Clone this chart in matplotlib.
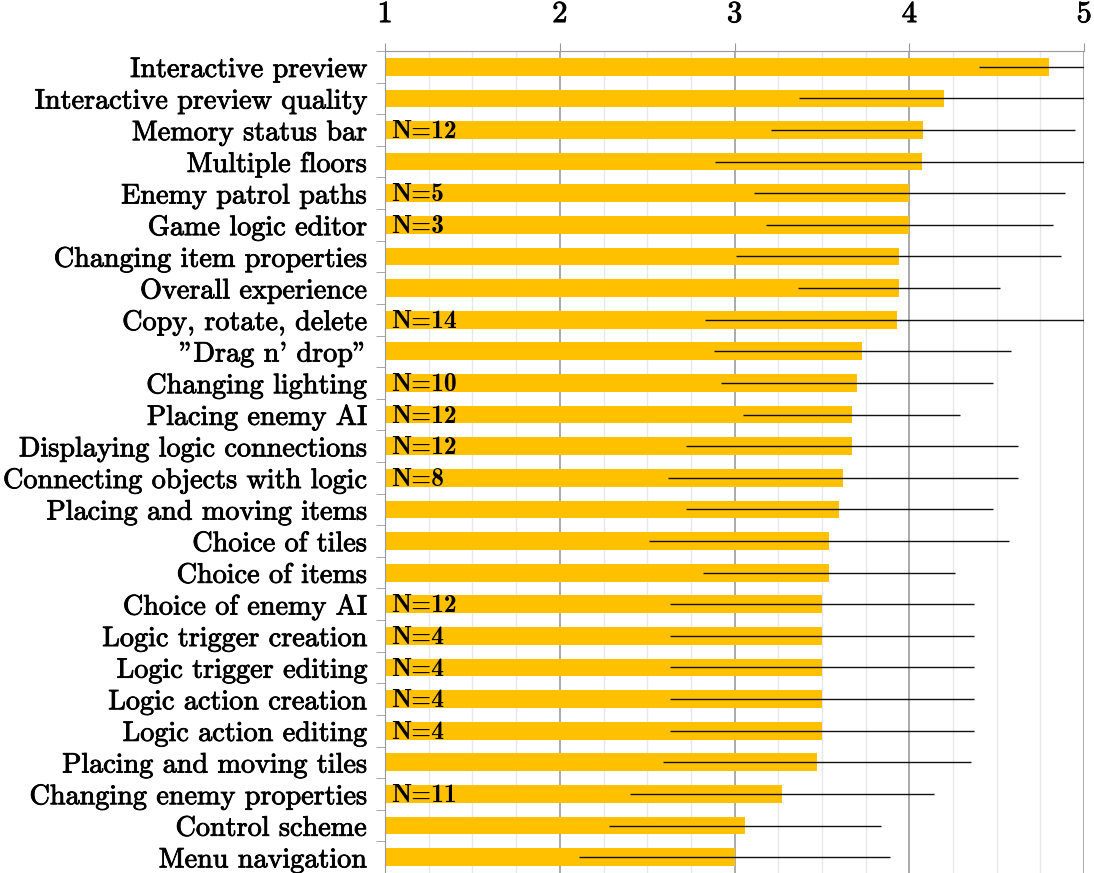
import matplotlib
matplotlib.use("Agg")
import matplotlib.pyplot as plt
import matplotlib.patheffects as pe
import numpy as np

# feature ratings (mean on 1-5 scale) with spread, top to bottom
features = [
    "Interactive preview",
    "Interactive preview quality",
    "Memory status bar",
    "Multiple floors",
    "Enemy patrol paths",
    "Game logic editor",
    "Changing item properties",
    "Overall experience",
    "Copy, rotate, delete",
    "\"Drag n' drop\"",
    "Changing lighting",
    "Placing enemy AI",
    "Displaying logic connections",
    "Connecting objects with logic",
    "Placing and moving items",
    "Choice of tiles",
    "Choice of items",
    "Choice of enemy AI",
    "Logic trigger creation",
    "Logic trigger editing",
    "Logic action creation",
    "Logic action editing",
    "Placing and moving tiles",
    "Changing enemy properties",
    "Control scheme",
    "Menu navigation",
]
means = [4.80, 4.20, 4.08, 4.07, 4.00, 4.00, 3.94, 3.94, 3.93, 3.73,
         3.70, 3.67, 3.67, 3.62, 3.60, 3.54, 3.54, 3.50, 3.50, 3.50,
         3.50, 3.50, 3.47, 3.27, 3.06, 3.00]
spread = [0.40, 0.83, 0.87, 1.18, 0.89, 0.82, 0.93, 0.58, 1.10, 0.85,
          0.78, 0.62, 0.95, 1.00, 0.88, 1.03, 0.72, 0.87, 0.87, 0.87,
          0.87, 0.87, 0.88, 0.87, 0.78, 0.89]
# respondent counts shown only where fewer people answered
counts = ["", "", "N=12", "", "N=5", "N=3", "", "", "N=14", "",
          "N=10", "N=12", "N=12", "N=8", "", "", "", "N=12", "N=4", "N=4",
          "N=4", "N=4", "", "N=11", "", ""]

plt.rcParams['font.family'] = ['cmr10', 'DejaVu Serif']
plt.rcParams['axes.unicode_minus'] = False

# slightly heavier strokes for the Computer Modern text
heavy = [pe.withStroke(linewidth=0.6, foreground="black")]

fig = plt.figure(figsize=(10.94, 8.73), dpi=100)
ax = fig.add_axes([0.352, 0.0, 0.639, 0.9416])

y = np.arange(len(features))
ax.barh(y, np.array(means) - 1, left=1, height=0.56, color="#FFC000", zorder=2)
ax.errorbar(means, y, xerr=spread, fmt="none", ecolor="#111111",
            elinewidth=1.0, capsize=0, zorder=3)

for yi, c in zip(y, counts):
    if c:
        ax.text(1.035, yi + 0.05, c, family=['cmb10', 'DejaVu Serif'], fontsize=18.5,
                ha="left", va="center", color="black", zorder=4)

ax.set_xlim(1, 5)
ax.set_ylim(len(features) - 0.5, -0.5)

ax.xaxis.tick_top()
ax.set_xticks([1, 2, 3, 4, 5])
ax.set_xticklabels(["1", "2", "3", "4", "5"], fontsize=22)
ax.set_xticks(np.arange(1, 5.01, 0.25), minor=True)
ax.tick_params(axis="x", which="major", length=5.5, color="#999999", pad=11)
ax.tick_params(axis="x", which="minor", length=0)

ax.set_yticks(y)
ax.set_yticklabels(features, fontsize=20.3)
ax.set_yticks(np.arange(-0.5, len(features), 1.0), minor=True)
ax.tick_params(axis="y", which="major", length=0, pad=13)
ax.tick_params(axis="y", which="minor", length=6.5, color="#999999")

for lab in ax.get_xticklabels() + ax.get_yticklabels():
    lab.set_path_effects(heavy)

ax.grid(axis="x", which="major", color="#aaaaaa", linewidth=1.4, zorder=0)
ax.grid(axis="x", which="minor", color="#e8e8e8", linewidth=1.0, zorder=0)
ax.set_axisbelow(True)

for side in ["right", "bottom"]:
    ax.spines[side].set_visible(False)
ax.spines["left"].set_color("#999999")
ax.spines["top"].set_color("#999999")

fig.savefig("out.png", dpi=100)
